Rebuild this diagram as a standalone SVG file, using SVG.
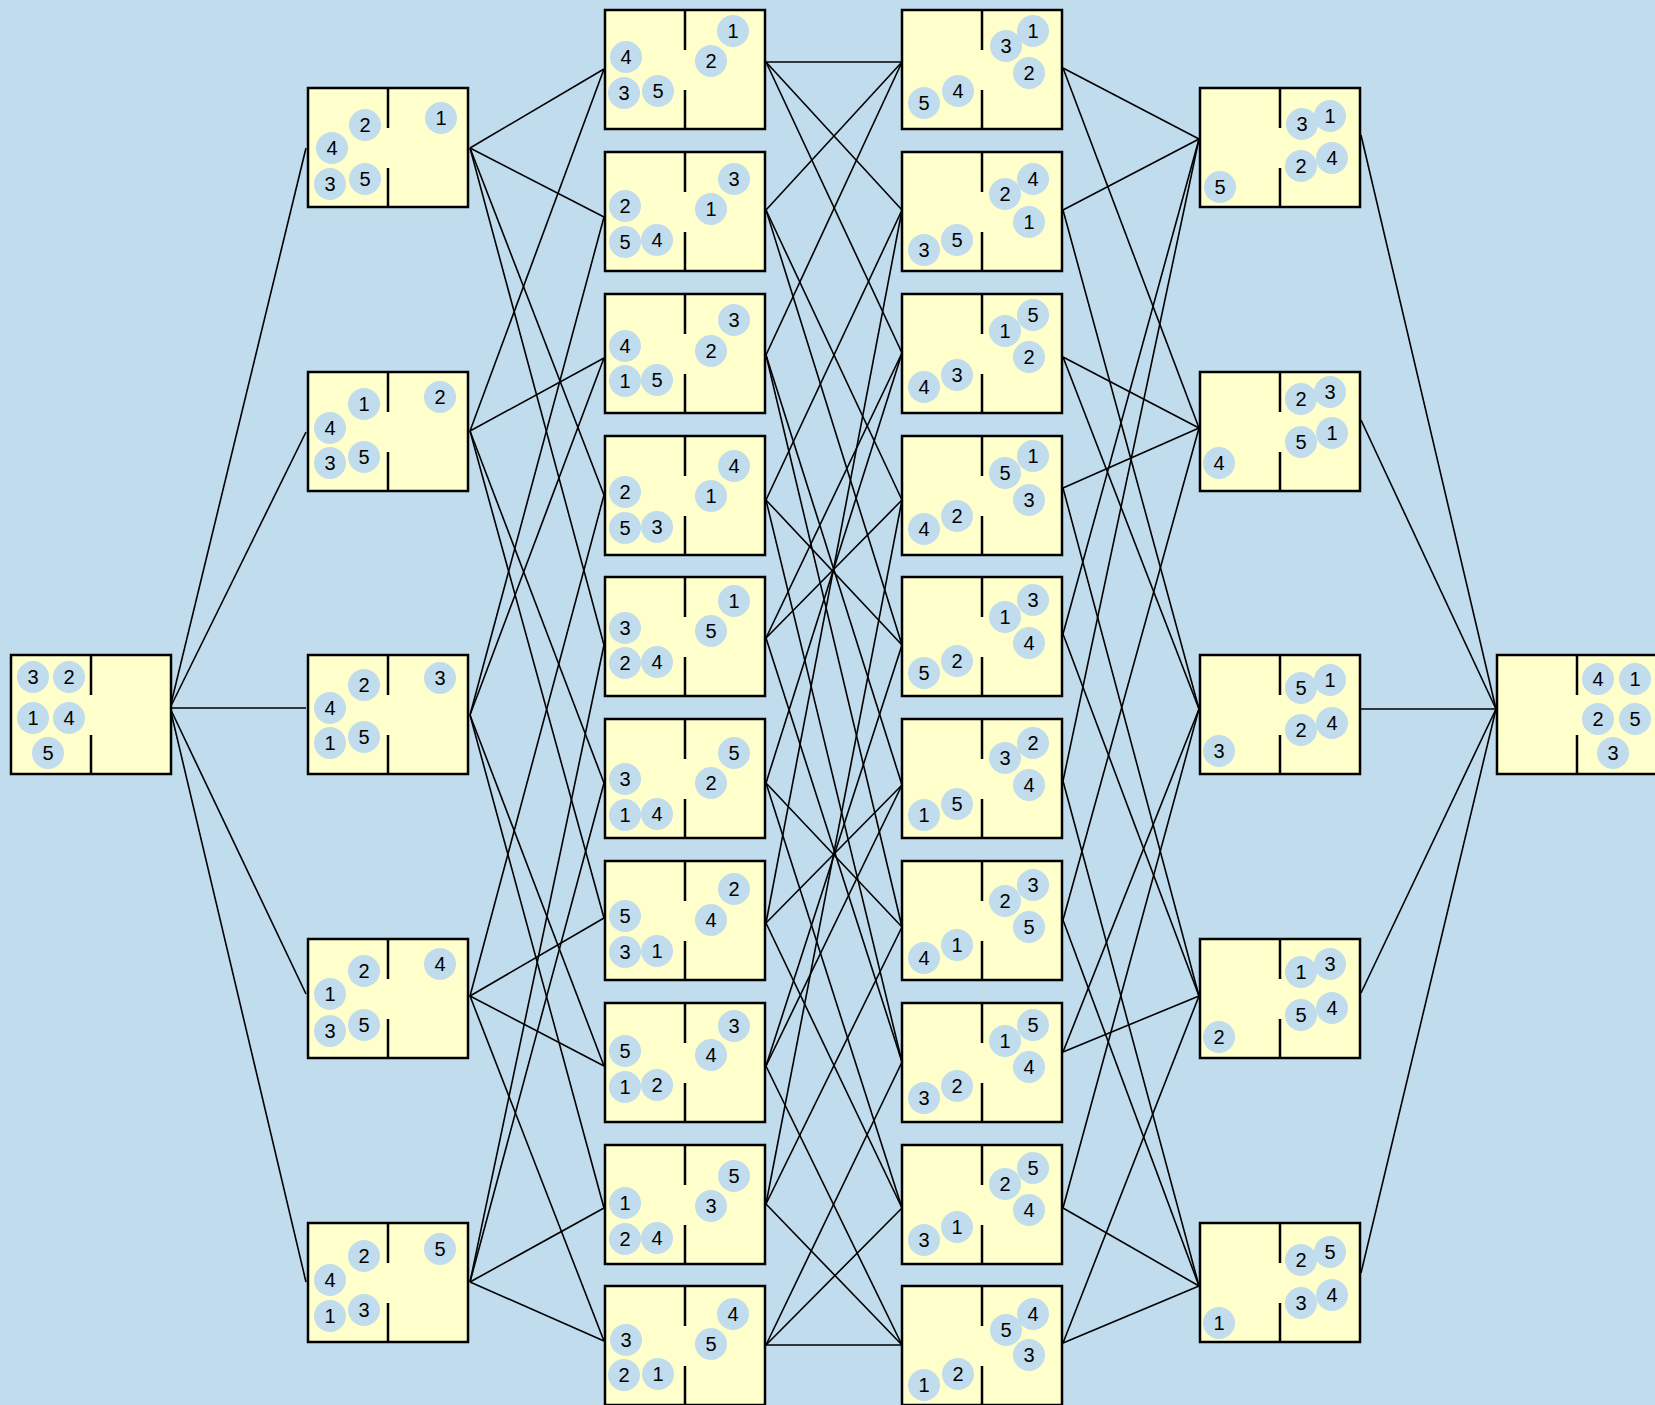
<svg xmlns="http://www.w3.org/2000/svg" width="1655" height="1405" viewBox="0 0 1655 1405">
<style>
.box{fill:#ffffcc;stroke:#000;stroke-width:2.5}
.dv{stroke:#000;stroke-width:2.5}
.b{fill:#c1dced}
.t{font-family:"Liberation Sans",Arial,sans-serif;font-size:20px;text-anchor:middle;fill:#000}
#edges line{stroke:#000;stroke-width:1.6}
</style>
<defs>
<g id="frame"><rect class="box" x="0" y="0" width="160" height="119"/><line class="dv" x1="80" y1="0" x2="80" y2="40"/><line class="dv" x1="80" y1="80" x2="80" y2="119"/></g>
</defs>
<rect width="1655" height="1405" fill="#c1dced"/>
<g id="edges">
<line x1="170" y1="708" x2="306" y2="148"/><line x1="170" y1="708" x2="306" y2="432"/><line x1="170" y1="708" x2="306" y2="708"/><line x1="170" y1="708" x2="306" y2="994"/><line x1="170" y1="708" x2="306" y2="1282"/>
<line x1="470" y1="148" x2="604" y2="69"/><line x1="470" y1="148" x2="604" y2="217"/><line x1="470" y1="148" x2="604" y2="495"/><line x1="470" y1="148" x2="604" y2="645"/>
<line x1="470" y1="431" x2="604" y2="69"/><line x1="470" y1="431" x2="604" y2="358"/><line x1="470" y1="431" x2="604" y2="783"/><line x1="470" y1="431" x2="604" y2="918"/>
<line x1="470" y1="715" x2="604" y2="217"/><line x1="470" y1="715" x2="604" y2="358"/><line x1="470" y1="715" x2="604" y2="1066"/><line x1="470" y1="715" x2="604" y2="1208"/>
<line x1="470" y1="996" x2="604" y2="495"/><line x1="470" y1="996" x2="604" y2="918"/><line x1="470" y1="996" x2="604" y2="1066"/><line x1="470" y1="996" x2="604" y2="1341"/>
<line x1="470" y1="1282" x2="604" y2="645"/><line x1="470" y1="1282" x2="604" y2="783"/><line x1="470" y1="1282" x2="604" y2="1208"/><line x1="470" y1="1282" x2="604" y2="1341"/>
<line x1="766" y1="62" x2="902" y2="62"/><line x1="766" y1="62" x2="902" y2="210"/><line x1="766" y1="62" x2="902" y2="353"/>
<line x1="766" y1="210" x2="902" y2="62"/><line x1="766" y1="210" x2="902" y2="500"/><line x1="766" y1="210" x2="902" y2="645"/>
<line x1="766" y1="355" x2="902" y2="62"/><line x1="766" y1="355" x2="902" y2="785"/><line x1="766" y1="355" x2="902" y2="927"/>
<line x1="766" y1="500" x2="902" y2="210"/><line x1="766" y1="500" x2="902" y2="645"/><line x1="766" y1="500" x2="902" y2="1062"/>
<line x1="766" y1="638" x2="902" y2="353"/><line x1="766" y1="638" x2="902" y2="500"/><line x1="766" y1="638" x2="902" y2="1062"/>
<line x1="766" y1="783" x2="902" y2="353"/><line x1="766" y1="783" x2="902" y2="927"/><line x1="766" y1="783" x2="902" y2="1208"/>
<line x1="766" y1="923" x2="902" y2="210"/><line x1="766" y1="923" x2="902" y2="785"/><line x1="766" y1="923" x2="902" y2="1208"/>
<line x1="766" y1="1066" x2="902" y2="645"/><line x1="766" y1="1066" x2="902" y2="785"/><line x1="766" y1="1066" x2="902" y2="1345"/>
<line x1="766" y1="1204" x2="902" y2="500"/><line x1="766" y1="1204" x2="902" y2="927"/><line x1="766" y1="1204" x2="902" y2="1345"/>
<line x1="766" y1="1345" x2="902" y2="1062"/><line x1="766" y1="1345" x2="902" y2="1208"/><line x1="766" y1="1345" x2="902" y2="1345"/>
<line x1="1063" y1="68" x2="1199" y2="139"/><line x1="1063" y1="68" x2="1199" y2="428"/>
<line x1="1063" y1="210" x2="1199" y2="139"/><line x1="1063" y1="210" x2="1199" y2="709"/>
<line x1="1063" y1="357" x2="1199" y2="428"/><line x1="1063" y1="357" x2="1199" y2="709"/>
<line x1="1063" y1="488" x2="1199" y2="428"/><line x1="1063" y1="488" x2="1199" y2="996"/>
<line x1="1063" y1="634" x2="1199" y2="139"/><line x1="1063" y1="634" x2="1199" y2="996"/>
<line x1="1063" y1="781" x2="1199" y2="139"/><line x1="1063" y1="781" x2="1199" y2="1286"/>
<line x1="1063" y1="920" x2="1199" y2="428"/><line x1="1063" y1="920" x2="1199" y2="1286"/>
<line x1="1063" y1="1052" x2="1199" y2="709"/><line x1="1063" y1="1052" x2="1199" y2="996"/>
<line x1="1063" y1="1208" x2="1199" y2="709"/><line x1="1063" y1="1208" x2="1199" y2="1286"/>
<line x1="1063" y1="1343" x2="1199" y2="996"/><line x1="1063" y1="1343" x2="1199" y2="1286"/>
<line x1="1361" y1="135" x2="1496" y2="709"/><line x1="1361" y1="420" x2="1496" y2="709"/><line x1="1361" y1="709" x2="1496" y2="709"/><line x1="1361" y1="993" x2="1496" y2="709"/><line x1="1361" y1="1273" x2="1496" y2="709"/>
</g>
<g id="s0" transform="translate(11,655)"><use href="#frame"/>
<circle class="b" cx="22" cy="22" r="16"/><text class="t" x="22" y="29">3</text>
<circle class="b" cx="58" cy="22" r="16"/><text class="t" x="58" y="29">2</text>
<circle class="b" cx="22" cy="63" r="16"/><text class="t" x="22" y="70">1</text>
<circle class="b" cx="58" cy="63" r="16"/><text class="t" x="58" y="70">4</text>
<circle class="b" cx="37" cy="98" r="16"/><text class="t" x="37" y="105">5</text>
</g>
<g id="s1a" transform="translate(308,88)"><use href="#frame"/>
<circle class="b" cx="57" cy="37" r="16"/><text class="t" x="57" y="44">2</text>
<circle class="b" cx="133" cy="30" r="16"/><text class="t" x="133" y="37">1</text>
<circle class="b" cx="24" cy="60" r="16"/><text class="t" x="24" y="67">4</text>
<circle class="b" cx="22" cy="96" r="16"/><text class="t" x="22" y="103">3</text>
<circle class="b" cx="57" cy="91" r="16"/><text class="t" x="57" y="98">5</text>
</g>
<g id="s1b" transform="translate(308,372)"><use href="#frame"/>
<circle class="b" cx="56" cy="32" r="16"/><text class="t" x="56" y="39">1</text>
<circle class="b" cx="132" cy="25" r="16"/><text class="t" x="132" y="32">2</text>
<circle class="b" cx="22" cy="56" r="16"/><text class="t" x="22" y="63">4</text>
<circle class="b" cx="22" cy="91" r="16"/><text class="t" x="22" y="98">3</text>
<circle class="b" cx="56" cy="85" r="16"/><text class="t" x="56" y="92">5</text>
</g>
<g id="s1c" transform="translate(308,655)"><use href="#frame"/>
<circle class="b" cx="56" cy="30" r="16"/><text class="t" x="56" y="37">2</text>
<circle class="b" cx="132" cy="23" r="16"/><text class="t" x="132" y="30">3</text>
<circle class="b" cx="22" cy="53" r="16"/><text class="t" x="22" y="60">4</text>
<circle class="b" cx="22" cy="88" r="16"/><text class="t" x="22" y="95">1</text>
<circle class="b" cx="56" cy="82" r="16"/><text class="t" x="56" y="89">5</text>
</g>
<g id="s1d" transform="translate(308,939)"><use href="#frame"/>
<circle class="b" cx="56" cy="32" r="16"/><text class="t" x="56" y="39">2</text>
<circle class="b" cx="132" cy="25" r="16"/><text class="t" x="132" y="32">4</text>
<circle class="b" cx="22" cy="55" r="16"/><text class="t" x="22" y="62">1</text>
<circle class="b" cx="22" cy="92" r="16"/><text class="t" x="22" y="99">3</text>
<circle class="b" cx="56" cy="86" r="16"/><text class="t" x="56" y="93">5</text>
</g>
<g id="s1e" transform="translate(308,1223)"><use href="#frame"/>
<circle class="b" cx="56" cy="33" r="16"/><text class="t" x="56" y="40">2</text>
<circle class="b" cx="132" cy="26" r="16"/><text class="t" x="132" y="33">5</text>
<circle class="b" cx="22" cy="57" r="16"/><text class="t" x="22" y="64">4</text>
<circle class="b" cx="22" cy="93" r="16"/><text class="t" x="22" y="100">1</text>
<circle class="b" cx="56" cy="87" r="16"/><text class="t" x="56" y="94">3</text>
</g>
<g id="s2a" transform="translate(605,10)"><use href="#frame"/>
<circle class="b" cx="128" cy="21" r="16"/><text class="t" x="128" y="28">1</text>
<circle class="b" cx="106" cy="51" r="16"/><text class="t" x="106" y="58">2</text>
<circle class="b" cx="21" cy="47" r="16"/><text class="t" x="21" y="54">4</text>
<circle class="b" cx="19" cy="83" r="16"/><text class="t" x="19" y="90">3</text>
<circle class="b" cx="53" cy="81" r="16"/><text class="t" x="53" y="88">5</text>
</g>
<g id="s2b" transform="translate(605,152)"><use href="#frame"/>
<circle class="b" cx="129" cy="27" r="16"/><text class="t" x="129" y="34">3</text>
<circle class="b" cx="106" cy="57" r="16"/><text class="t" x="106" y="64">1</text>
<circle class="b" cx="20" cy="54" r="16"/><text class="t" x="20" y="61">2</text>
<circle class="b" cx="20" cy="90" r="16"/><text class="t" x="20" y="97">5</text>
<circle class="b" cx="52" cy="88" r="16"/><text class="t" x="52" y="95">4</text>
</g>
<g id="s2c" transform="translate(605,294)"><use href="#frame"/>
<circle class="b" cx="129" cy="26" r="16"/><text class="t" x="129" y="33">3</text>
<circle class="b" cx="106" cy="57" r="16"/><text class="t" x="106" y="64">2</text>
<circle class="b" cx="20" cy="52" r="16"/><text class="t" x="20" y="59">4</text>
<circle class="b" cx="20" cy="87" r="16"/><text class="t" x="20" y="94">1</text>
<circle class="b" cx="52" cy="86" r="16"/><text class="t" x="52" y="93">5</text>
</g>
<g id="s2d" transform="translate(605,436)"><use href="#frame"/>
<circle class="b" cx="129" cy="30" r="16"/><text class="t" x="129" y="37">4</text>
<circle class="b" cx="106" cy="60" r="16"/><text class="t" x="106" y="67">1</text>
<circle class="b" cx="20" cy="56" r="16"/><text class="t" x="20" y="63">2</text>
<circle class="b" cx="20" cy="92" r="16"/><text class="t" x="20" y="99">5</text>
<circle class="b" cx="52" cy="91" r="16"/><text class="t" x="52" y="98">3</text>
</g>
<g id="s2e" transform="translate(605,577)"><use href="#frame"/>
<circle class="b" cx="129" cy="24" r="16"/><text class="t" x="129" y="31">1</text>
<circle class="b" cx="106" cy="54" r="16"/><text class="t" x="106" y="61">5</text>
<circle class="b" cx="20" cy="51" r="16"/><text class="t" x="20" y="58">3</text>
<circle class="b" cx="20" cy="86" r="16"/><text class="t" x="20" y="93">2</text>
<circle class="b" cx="52" cy="85" r="16"/><text class="t" x="52" y="92">4</text>
</g>
<g id="s2f" transform="translate(605,719)"><use href="#frame"/>
<circle class="b" cx="129" cy="34" r="16"/><text class="t" x="129" y="41">5</text>
<circle class="b" cx="106" cy="64" r="16"/><text class="t" x="106" y="71">2</text>
<circle class="b" cx="20" cy="60" r="16"/><text class="t" x="20" y="67">3</text>
<circle class="b" cx="20" cy="96" r="16"/><text class="t" x="20" y="103">1</text>
<circle class="b" cx="52" cy="95" r="16"/><text class="t" x="52" y="102">4</text>
</g>
<g id="s2g" transform="translate(605,861)"><use href="#frame"/>
<circle class="b" cx="129" cy="28" r="16"/><text class="t" x="129" y="35">2</text>
<circle class="b" cx="106" cy="59" r="16"/><text class="t" x="106" y="66">4</text>
<circle class="b" cx="20" cy="55" r="16"/><text class="t" x="20" y="62">5</text>
<circle class="b" cx="20" cy="91" r="16"/><text class="t" x="20" y="98">3</text>
<circle class="b" cx="52" cy="90" r="16"/><text class="t" x="52" y="97">1</text>
</g>
<g id="s2h" transform="translate(605,1003)"><use href="#frame"/>
<circle class="b" cx="129" cy="23" r="16"/><text class="t" x="129" y="30">3</text>
<circle class="b" cx="106" cy="52" r="16"/><text class="t" x="106" y="59">4</text>
<circle class="b" cx="20" cy="48" r="16"/><text class="t" x="20" y="55">5</text>
<circle class="b" cx="20" cy="84" r="16"/><text class="t" x="20" y="91">1</text>
<circle class="b" cx="52" cy="82" r="16"/><text class="t" x="52" y="89">2</text>
</g>
<g id="s2i" transform="translate(605,1145)"><use href="#frame"/>
<circle class="b" cx="129" cy="31" r="16"/><text class="t" x="129" y="38">5</text>
<circle class="b" cx="106" cy="61" r="16"/><text class="t" x="106" y="68">3</text>
<circle class="b" cx="20" cy="58" r="16"/><text class="t" x="20" y="65">1</text>
<circle class="b" cx="20" cy="94" r="16"/><text class="t" x="20" y="101">2</text>
<circle class="b" cx="52" cy="93" r="16"/><text class="t" x="52" y="100">4</text>
</g>
<g id="s2j" transform="translate(605,1286)"><use href="#frame"/>
<circle class="b" cx="128" cy="28" r="16"/><text class="t" x="128" y="35">4</text>
<circle class="b" cx="106" cy="58" r="16"/><text class="t" x="106" y="65">5</text>
<circle class="b" cx="21" cy="54" r="16"/><text class="t" x="21" y="61">3</text>
<circle class="b" cx="19" cy="89" r="16"/><text class="t" x="19" y="96">2</text>
<circle class="b" cx="53" cy="88" r="16"/><text class="t" x="53" y="95">1</text>
</g>
<g id="s3a" transform="translate(902,10)"><use href="#frame"/>
<circle class="b" cx="131" cy="21" r="16"/><text class="t" x="131" y="28">1</text>
<circle class="b" cx="104" cy="36" r="16"/><text class="t" x="104" y="43">3</text>
<circle class="b" cx="127" cy="63" r="16"/><text class="t" x="127" y="70">2</text>
<circle class="b" cx="56" cy="81" r="16"/><text class="t" x="56" y="88">4</text>
<circle class="b" cx="22" cy="93" r="16"/><text class="t" x="22" y="100">5</text>
</g>
<g id="s3b" transform="translate(902,152)"><use href="#frame"/>
<circle class="b" cx="131" cy="27" r="16"/><text class="t" x="131" y="34">4</text>
<circle class="b" cx="103" cy="42" r="16"/><text class="t" x="103" y="49">2</text>
<circle class="b" cx="127" cy="70" r="16"/><text class="t" x="127" y="77">1</text>
<circle class="b" cx="55" cy="88" r="16"/><text class="t" x="55" y="95">5</text>
<circle class="b" cx="22" cy="98" r="16"/><text class="t" x="22" y="105">3</text>
</g>
<g id="s3c" transform="translate(902,294)"><use href="#frame"/>
<circle class="b" cx="131" cy="21" r="16"/><text class="t" x="131" y="28">5</text>
<circle class="b" cx="103" cy="37" r="16"/><text class="t" x="103" y="44">1</text>
<circle class="b" cx="127" cy="63" r="16"/><text class="t" x="127" y="70">2</text>
<circle class="b" cx="55" cy="81" r="16"/><text class="t" x="55" y="88">3</text>
<circle class="b" cx="22" cy="93" r="16"/><text class="t" x="22" y="100">4</text>
</g>
<g id="s3d" transform="translate(902,436)"><use href="#frame"/>
<circle class="b" cx="131" cy="20" r="16"/><text class="t" x="131" y="27">1</text>
<circle class="b" cx="103" cy="37" r="16"/><text class="t" x="103" y="44">5</text>
<circle class="b" cx="127" cy="64" r="16"/><text class="t" x="127" y="71">3</text>
<circle class="b" cx="55" cy="80" r="16"/><text class="t" x="55" y="87">2</text>
<circle class="b" cx="22" cy="93" r="16"/><text class="t" x="22" y="100">4</text>
</g>
<g id="s3e" transform="translate(902,577)"><use href="#frame"/>
<circle class="b" cx="131" cy="23" r="16"/><text class="t" x="131" y="30">3</text>
<circle class="b" cx="103" cy="40" r="16"/><text class="t" x="103" y="47">1</text>
<circle class="b" cx="127" cy="66" r="16"/><text class="t" x="127" y="73">4</text>
<circle class="b" cx="55" cy="84" r="16"/><text class="t" x="55" y="91">2</text>
<circle class="b" cx="22" cy="96" r="16"/><text class="t" x="22" y="103">5</text>
</g>
<g id="s3f" transform="translate(902,719)"><use href="#frame"/>
<circle class="b" cx="131" cy="24" r="16"/><text class="t" x="131" y="31">2</text>
<circle class="b" cx="103" cy="39" r="16"/><text class="t" x="103" y="46">3</text>
<circle class="b" cx="127" cy="66" r="16"/><text class="t" x="127" y="73">4</text>
<circle class="b" cx="55" cy="85" r="16"/><text class="t" x="55" y="92">5</text>
<circle class="b" cx="22" cy="96" r="16"/><text class="t" x="22" y="103">1</text>
</g>
<g id="s3g" transform="translate(902,861)"><use href="#frame"/>
<circle class="b" cx="131" cy="24" r="16"/><text class="t" x="131" y="31">3</text>
<circle class="b" cx="103" cy="40" r="16"/><text class="t" x="103" y="47">2</text>
<circle class="b" cx="127" cy="66" r="16"/><text class="t" x="127" y="73">5</text>
<circle class="b" cx="55" cy="84" r="16"/><text class="t" x="55" y="91">1</text>
<circle class="b" cx="22" cy="97" r="16"/><text class="t" x="22" y="104">4</text>
</g>
<g id="s3h" transform="translate(902,1003)"><use href="#frame"/>
<circle class="b" cx="131" cy="22" r="16"/><text class="t" x="131" y="29">5</text>
<circle class="b" cx="103" cy="38" r="16"/><text class="t" x="103" y="45">1</text>
<circle class="b" cx="127" cy="64" r="16"/><text class="t" x="127" y="71">4</text>
<circle class="b" cx="55" cy="83" r="16"/><text class="t" x="55" y="90">2</text>
<circle class="b" cx="22" cy="95" r="16"/><text class="t" x="22" y="102">3</text>
</g>
<g id="s3i" transform="translate(902,1145)"><use href="#frame"/>
<circle class="b" cx="131" cy="23" r="16"/><text class="t" x="131" y="30">5</text>
<circle class="b" cx="103" cy="39" r="16"/><text class="t" x="103" y="46">2</text>
<circle class="b" cx="127" cy="65" r="16"/><text class="t" x="127" y="72">4</text>
<circle class="b" cx="55" cy="82" r="16"/><text class="t" x="55" y="89">1</text>
<circle class="b" cx="22" cy="95" r="16"/><text class="t" x="22" y="102">3</text>
</g>
<g id="s3j" transform="translate(902,1286)"><use href="#frame"/>
<circle class="b" cx="131" cy="28" r="16"/><text class="t" x="131" y="35">4</text>
<circle class="b" cx="104" cy="44" r="16"/><text class="t" x="104" y="51">5</text>
<circle class="b" cx="127" cy="69" r="16"/><text class="t" x="127" y="76">3</text>
<circle class="b" cx="56" cy="88" r="16"/><text class="t" x="56" y="95">2</text>
<circle class="b" cx="22" cy="99" r="16"/><text class="t" x="22" y="106">1</text>
</g>
<g id="s4a" transform="translate(1200,88)"><use href="#frame"/>
<circle class="b" cx="130" cy="28" r="16"/><text class="t" x="130" y="35">1</text>
<circle class="b" cx="102" cy="36" r="16"/><text class="t" x="102" y="43">3</text>
<circle class="b" cx="132" cy="70" r="16"/><text class="t" x="132" y="77">4</text>
<circle class="b" cx="101" cy="78" r="16"/><text class="t" x="101" y="85">2</text>
<circle class="b" cx="20" cy="99" r="16"/><text class="t" x="20" y="106">5</text>
</g>
<g id="s4b" transform="translate(1200,372)"><use href="#frame"/>
<circle class="b" cx="130" cy="20" r="16"/><text class="t" x="130" y="27">3</text>
<circle class="b" cx="101" cy="27" r="16"/><text class="t" x="101" y="34">2</text>
<circle class="b" cx="132" cy="61" r="16"/><text class="t" x="132" y="68">1</text>
<circle class="b" cx="101" cy="70" r="16"/><text class="t" x="101" y="77">5</text>
<circle class="b" cx="19" cy="91" r="16"/><text class="t" x="19" y="98">4</text>
</g>
<g id="s4c" transform="translate(1200,655)"><use href="#frame"/>
<circle class="b" cx="130" cy="25" r="16"/><text class="t" x="130" y="32">1</text>
<circle class="b" cx="101" cy="33" r="16"/><text class="t" x="101" y="40">5</text>
<circle class="b" cx="132" cy="68" r="16"/><text class="t" x="132" y="75">4</text>
<circle class="b" cx="101" cy="75" r="16"/><text class="t" x="101" y="82">2</text>
<circle class="b" cx="19" cy="96" r="16"/><text class="t" x="19" y="103">3</text>
</g>
<g id="s4d" transform="translate(1200,939)"><use href="#frame"/>
<circle class="b" cx="130" cy="25" r="16"/><text class="t" x="130" y="32">3</text>
<circle class="b" cx="101" cy="33" r="16"/><text class="t" x="101" y="40">1</text>
<circle class="b" cx="132" cy="69" r="16"/><text class="t" x="132" y="76">4</text>
<circle class="b" cx="101" cy="76" r="16"/><text class="t" x="101" y="83">5</text>
<circle class="b" cx="19" cy="98" r="16"/><text class="t" x="19" y="105">2</text>
</g>
<g id="s4e" transform="translate(1200,1223)"><use href="#frame"/>
<circle class="b" cx="130" cy="29" r="16"/><text class="t" x="130" y="36">5</text>
<circle class="b" cx="101" cy="37" r="16"/><text class="t" x="101" y="44">2</text>
<circle class="b" cx="132" cy="72" r="16"/><text class="t" x="132" y="79">4</text>
<circle class="b" cx="101" cy="80" r="16"/><text class="t" x="101" y="87">3</text>
<circle class="b" cx="19" cy="100" r="16"/><text class="t" x="19" y="107">1</text>
</g>
<g id="s5" transform="translate(1497,655)"><use href="#frame"/>
<circle class="b" cx="101" cy="24" r="16"/><text class="t" x="101" y="31">4</text>
<circle class="b" cx="138" cy="24" r="16"/><text class="t" x="138" y="31">1</text>
<circle class="b" cx="101" cy="64" r="16"/><text class="t" x="101" y="71">2</text>
<circle class="b" cx="138" cy="64" r="16"/><text class="t" x="138" y="71">5</text>
<circle class="b" cx="116" cy="98" r="16"/><text class="t" x="116" y="105">3</text>
</g>
</svg>
